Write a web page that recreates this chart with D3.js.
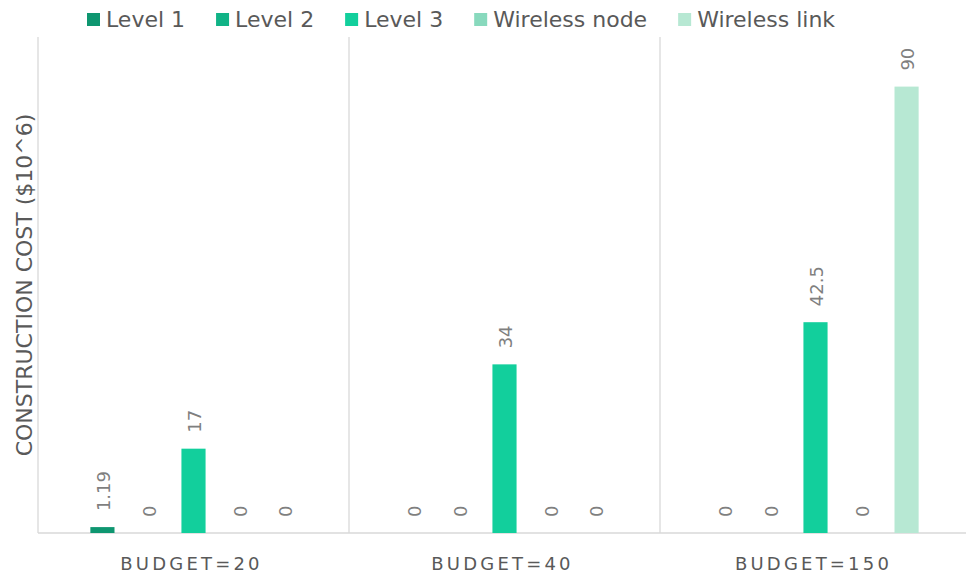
<!DOCTYPE html>
<html>
<head>
<meta charset="utf-8">
<script src="https://cdn.jsdelivr.net/npm/d3@7"></script>
<style>
  html, body { margin: 0; padding: 0; background: #fff; }
  svg { display: block; font-family: "DejaVu Sans", "Open Sans", sans-serif; }
</style>
</head>
<body>
<svg id="chart" width="966" height="573"></svg>
<script>
// Budget scenarios on the x axis
const categories = ["BUDGET=20", "BUDGET=40", "BUDGET=150"];
// Cost components (one bar per component within each budget group)
const seriesNames = ["Level 1", "Level 2", "Level 3", "Wireless node", "Wireless link"];
const seriesColors = ["#0e9670", "#10b386", "#12cf9c", "#88d9bd", "#b7e8d3"];
// Construction cost ($10^6): rows = series, columns = categories
const level1 = [1.19, 0, 0];
const level2 = [0, 0, 0];
const level3 = [17, 34, 42.5];
const wirelessNode = [0, 0, 0];
const wirelessLink = [0, 0, 90];
const yDomain = [0, 100];

const seriesValues = [level1, level2, level3, wirelessNode, wirelessLink];

const svg = d3.select("#chart");
const W = 966, H = 573;
const plot = { left: 38, right: 971, top: 37, bottom: 533 };

const x0 = d3.scaleBand().domain(categories).range([plot.left, plot.right]).padding(0);
const x1 = d3.scaleBand().domain(seriesNames).range([0, x0.bandwidth()])
  .paddingInner(0.47).paddingOuter(1.15);
const y = d3.scaleLinear().domain(yDomain).range([plot.bottom, plot.top]);

const gridColor = "#d9d9d9";

// Group separators and left axis line
const seps = categories.map(c => x0(c));
svg.append("g").selectAll("line").data(seps).join("line")
  .attr("x1", d => d).attr("x2", d => d)
  .attr("y1", plot.top).attr("y2", plot.bottom)
  .attr("stroke", gridColor).attr("stroke-width", 1.3);

// Baseline
svg.append("line")
  .attr("x1", plot.left).attr("x2", W)
  .attr("y1", y(0)).attr("y2", y(0))
  .attr("stroke", gridColor).attr("stroke-width", 1.6);

// Bars and value labels
const data = [];
categories.forEach((c, ci) => {
  seriesNames.forEach((s, si) => {
    data.push({ cat: c, series: s, si, value: seriesValues[si][ci] });
  });
});

const g = svg.append("g");
g.selectAll("rect").data(data).join("rect")
  .attr("x", d => x0(d.cat) + x1(d.series))
  .attr("y", d => y(d.value))
  .attr("width", x1.bandwidth())
  .attr("height", d => y(0) - y(d.value))
  .attr("fill", d => seriesColors[d.si]);

g.selectAll("text").data(data).join("text")
  .attr("transform", d => {
    const cx = x0(d.cat) + x1(d.series) + x1.bandwidth() / 2 + 1;
    return `translate(${cx},${y(d.value) - 16}) rotate(-90)`;
  })
  .attr("dy", "0.38em")
  .attr("text-anchor", "start")
  .attr("font-size", 18)
  .attr("fill", "#7f7f7f")
  .text(d => d.value);

// Category labels
svg.append("g").selectAll("text").data(categories).join("text")
  .attr("x", d => x0(d) + x0.bandwidth() / 2 - 2)
  .attr("y", 570)
  .attr("text-anchor", "middle")
  .attr("font-size", 18)
  .attr("letter-spacing", 3.2)
  .attr("fill", "#595959")
  .text(d => d);

// Y axis title
svg.append("text")
  .attr("transform", `translate(32,${(plot.top + plot.bottom) / 2}) rotate(-90)`)
  .attr("text-anchor", "middle")
  .attr("font-size", 22)
  .attr("fill", "#595959")
  .text("CONSTRUCTION COST ($10^6)");

// Legend
const legend = svg.append("g");
let lx = 87;
seriesNames.forEach((s, i) => {
  const item = legend.append("g").attr("transform", `translate(${lx},0)`);
  item.append("rect").attr("x", 0).attr("y", 13).attr("width", 13).attr("height", 13)
    .attr("fill", seriesColors[i]);
  const t = item.append("text").attr("x", 19).attr("y", 27)
    .attr("font-size", 22).attr("fill", "#595959").text(s);
  lx += 19 + t.node().getComputedTextLength() + 31;
});
</script>
</body>
</html>
